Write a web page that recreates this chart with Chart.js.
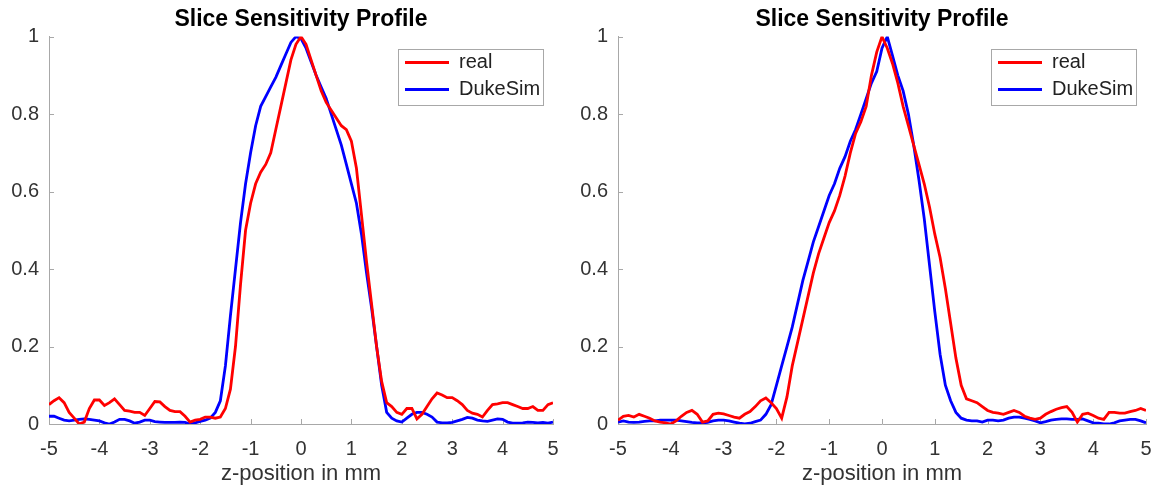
<!DOCTYPE html>
<html>
<head>
<meta charset="utf-8">
<title>Slice Sensitivity Profile</title>
<script src="https://cdn.jsdelivr.net/npm/chart.js@4.4.1/dist/chart.umd.min.js"></script>
<style>
    html, body { margin: 0; padding: 0; background: #ffffff; overflow: hidden; }
    body { width: 1167px; height: 494px; position: relative; }
    .panel { position: absolute; top: 0; height: 494px; }
    #panel-left  { left: 0;     width: 602px; }
    #panel-right { left: 570px; width: 600px; }
</style>
</head>
<body>
<div class="panel" id="panel-left"><canvas id="ssp-left"></canvas></div>
<div class="panel" id="panel-right"><canvas id="ssp-right"></canvas></div>
<script>
// z-position (mm), shared by both panels
var zPos = [
    -5.0, -4.9, -4.8, -4.7, -4.6, -4.5, -4.4, -4.3, -4.2, -4.1,
    -4.0, -3.9, -3.8, -3.7, -3.6, -3.5, -3.4, -3.3, -3.2, -3.1,
    -3.0, -2.9, -2.8, -2.7, -2.6, -2.5, -2.4, -2.3, -2.2, -2.1,
    -2.0, -1.9, -1.8, -1.7, -1.6, -1.5, -1.4, -1.3, -1.2, -1.1,
    -1.0, -0.9, -0.8, -0.7, -0.6, -0.5, -0.4, -0.3, -0.2, -0.1,
     0.0,  0.1,  0.2,  0.3,  0.4,  0.5,  0.6,  0.7,  0.8,  0.9,
     1.0,  1.1,  1.2,  1.3,  1.4,  1.5,  1.6,  1.7,  1.8,  1.9,
     2.0,  2.1,  2.2,  2.3,  2.4,  2.5,  2.6,  2.7,  2.8,  2.9,
     3.0,  3.1,  3.2,  3.3,  3.4,  3.5,  3.6,  3.7,  3.8,  3.9,
     4.0,  4.1,  4.2,  4.3,  4.4,  4.5,  4.6,  4.7,  4.8,  4.9,
     5.0
];

// left panel
var leftReal = [
    0.050, 0.060, 0.068, 0.055, 0.030, 0.015, 0.000, 0.005, 0.040, 0.062,
    0.062, 0.048, 0.055, 0.065, 0.050, 0.035, 0.033, 0.030, 0.030, 0.022,
    0.040, 0.058, 0.057, 0.045, 0.035, 0.032, 0.032, 0.020, 0.005, 0.010,
    0.012, 0.018, 0.018, 0.015, 0.018, 0.040, 0.090, 0.200, 0.360, 0.500,
    0.570, 0.620, 0.650, 0.670, 0.700, 0.760, 0.820, 0.880, 0.940, 0.980,
    1.000, 0.980, 0.940, 0.900, 0.860, 0.830, 0.810, 0.790, 0.770, 0.760,
    0.730, 0.660, 0.540, 0.420, 0.310, 0.200, 0.110, 0.055, 0.045, 0.030,
    0.025, 0.040, 0.040, 0.013, 0.025, 0.045, 0.065, 0.080, 0.075, 0.068,
    0.068, 0.060, 0.050, 0.035, 0.028, 0.025, 0.018, 0.035, 0.050, 0.052,
    0.055, 0.055, 0.050, 0.045, 0.040, 0.040, 0.045, 0.035, 0.035, 0.050,
    0.055
];
var leftDukeSim = [
    0.020, 0.020, 0.015, 0.010, 0.008, 0.010, 0.012, 0.013, 0.012, 0.010,
    0.008, 0.003, 0.000, 0.005, 0.012, 0.012, 0.008, 0.002, 0.005, 0.010,
    0.010, 0.006, 0.005, 0.004, 0.004, 0.004, 0.005, 0.004, 0.000, 0.003,
    0.007, 0.010, 0.015, 0.030, 0.060, 0.150, 0.280, 0.400, 0.520, 0.620,
    0.700, 0.770, 0.820, 0.845, 0.870, 0.895, 0.925, 0.955, 0.985, 1.000,
    0.995, 0.970, 0.935, 0.900, 0.870, 0.840, 0.800, 0.760, 0.720, 0.670,
    0.620, 0.570, 0.490, 0.390, 0.300, 0.200, 0.100, 0.030, 0.015, 0.008,
    0.005, 0.015, 0.025, 0.030, 0.030, 0.025, 0.018, 0.005, 0.003, 0.003,
    0.004, 0.008, 0.012, 0.017, 0.015, 0.010, 0.008, 0.007, 0.010, 0.013,
    0.012, 0.005, 0.002, 0.002, 0.003, 0.005, 0.004, 0.003, 0.004, 0.002,
    0.005
];

// right panel
var rightReal = [
    0.010, 0.020, 0.022, 0.018, 0.025, 0.020, 0.015, 0.008, 0.005, 0.003,
    0.000, 0.008, 0.020, 0.030, 0.035, 0.025, 0.005, 0.008, 0.025, 0.028,
    0.026, 0.022, 0.018, 0.015, 0.025, 0.032, 0.045, 0.060, 0.067, 0.055,
    0.040, 0.015, 0.070, 0.150, 0.210, 0.270, 0.330, 0.390, 0.440, 0.480,
    0.520, 0.550, 0.590, 0.640, 0.700, 0.750, 0.780, 0.820, 0.900, 0.960,
    1.000, 0.970, 0.930, 0.880, 0.820, 0.770, 0.720, 0.670, 0.620, 0.560,
    0.490, 0.430, 0.350, 0.260, 0.170, 0.100, 0.065, 0.060, 0.055, 0.045,
    0.035, 0.030, 0.028, 0.025, 0.030, 0.035, 0.030, 0.020, 0.015, 0.012,
    0.015, 0.025, 0.032, 0.038, 0.042, 0.045, 0.030, 0.005, 0.025, 0.028,
    0.022, 0.015, 0.012, 0.030, 0.030, 0.028, 0.028, 0.032, 0.035, 0.040,
    0.035
];
var rightDukeSim = [
    0.005, 0.008, 0.005, 0.004, 0.005, 0.007, 0.008, 0.008, 0.010, 0.010,
    0.010, 0.010, 0.008, 0.006, 0.004, 0.003, 0.003, 0.004, 0.008, 0.010,
    0.010, 0.008, 0.005, 0.002, 0.000, 0.002, 0.006, 0.010, 0.025, 0.050,
    0.100, 0.150, 0.200, 0.250, 0.310, 0.370, 0.420, 0.470, 0.510, 0.550,
    0.590, 0.620, 0.660, 0.690, 0.730, 0.760, 0.800, 0.840, 0.880, 0.910,
    0.970, 1.000, 0.950, 0.900, 0.860, 0.800, 0.720, 0.630, 0.530, 0.410,
    0.290, 0.180, 0.100, 0.060, 0.030, 0.015, 0.010, 0.008, 0.008, 0.005,
    0.010, 0.010, 0.008, 0.010, 0.015, 0.018, 0.018, 0.015, 0.012, 0.008,
    0.003, 0.006, 0.010, 0.012, 0.013, 0.013, 0.012, 0.012, 0.013, 0.008,
    0.003, 0.002, 0.000, 0.000, 0.003, 0.008, 0.010, 0.012, 0.012, 0.008,
    0.003
];

var seriesNames = ['real', 'DukeSim'];
var xTicks = [-5, -4, -3, -2, -1, 0, 1, 2, 3, 4, 5];
var yTicks = [0, 0.2, 0.4, 0.6, 0.8, 1];
var chartTitle = 'Slice Sensitivity Profile';
var xAxisTitle = 'z-position in mm';

Chart.defaults.font.family = '"Liberation Sans", Arial, Helvetica, sans-serif';
Chart.defaults.color = '#333333';

var AXIS_GREY = '#a8a8a8';

function toPoints(values) {
    return values.map(function (v, i) { return { x: zPos[i], y: v }; });
}

// MATLAB-like axes: title centred on the plot, inward ticks, boxed legend inside the axes
var matlabAxesPlugin = {
    id: 'matlabAxes',
    beforeDraw: function (chart) {
        var area = chart.chartArea;
        if (chart.titleBlock) {
            chart.titleBlock.left = area.left;
            chart.titleBlock.right = area.right;
            chart.titleBlock.width = area.right - area.left;
        }
        var lg = chart.legend;
        if (!lg) return;
        var boxLeft = area.right - 155;
        var boxTop = area.top + 12;
        lg.left = boxLeft;
        lg.right = area.right - 10;
        lg.width = lg.right - lg.left;
        lg.top = boxTop - 3;
        lg.bottom = boxTop + 80;
        lg.height = lg.bottom - lg.top;
    },
    beforeDatasetsDraw: function (chart) {
        var ctx = chart.ctx;
        var area = chart.chartArea;
        var xs = chart.scales.x, ys = chart.scales.y;
        ctx.save();
        ctx.strokeStyle = AXIS_GREY;
        ctx.lineWidth = 1;
        ctx.beginPath();
        xTicks.forEach(function (t) {
            var px = Math.round(xs.getPixelForValue(t)) + 0.5;
            ctx.moveTo(px, area.bottom);
            ctx.lineTo(px, area.bottom - 5);
        });
        yTicks.forEach(function (t) {
            var py = Math.round(ys.getPixelForValue(t)) + 0.5;
            ctx.moveTo(area.left, py);
            ctx.lineTo(area.left + 5, py);
        });
        ctx.stroke();
        ctx.restore();
    },
    afterDraw: function (chart) {
        var ctx = chart.ctx;
        var area = chart.chartArea;
        ctx.save();
        ctx.strokeStyle = AXIS_GREY;
        ctx.lineWidth = 1;
        ctx.strokeRect(Math.round(area.right - 155) + 0.5, Math.round(area.top + 12) + 0.5, 145, 56);
        ctx.restore();
    }
};

function buildChart(canvasId, realVals, dukeVals, yAxisWidth, rightPad) {
    var ctx = document.getElementById(canvasId);
    return new Chart(ctx, {
        type: 'line',
        data: {
            datasets: [{
                label: seriesNames[0],
                data: toPoints(realVals),
                borderColor: '#ff0000',
                backgroundColor: '#ff0000',
                borderWidth: 2.8,
                pointRadius: 0,
                tension: 0
            }, {
                label: seriesNames[1],
                data: toPoints(dukeVals),
                borderColor: '#0000ff',
                backgroundColor: '#0000ff',
                borderWidth: 2.8,
                pointRadius: 0,
                tension: 0
            }]
        },
        options: {
            responsive: true,
            maintainAspectRatio: false,
            animation: false,
            events: [],
            layout: { padding: { left: 0, right: rightPad, top: 0, bottom: 0 } },
            plugins: {
                title: {
                    display: true,
                    text: chartTitle,
                    color: '#000000',
                    font: { size: 23, weight: 'bold' },
                    padding: { top: 6, bottom: 3 }
                },
                legend: {
                    display: true,
                    position: 'chartArea',
                    align: 'start',
                    labels: {
                        color: '#222222',
                        font: { size: 20 },
                        boxWidth: 44,
                        boxHeight: 3,
                        padding: 7,
                        generateLabels: function (chart) {
                            var items = Chart.defaults.plugins.legend.labels.generateLabels(chart);
                            items.forEach(function (it) { it.fillStyle = it.strokeStyle; it.lineWidth = 0; });
                            return items;
                        }
                    }
                },
                tooltip: { enabled: false }
            },
            scales: {
                x: {
                    type: 'linear',
                    min: -5, max: 5,
                    grid: { display: false, drawTicks: false },
                    border: { display: true, color: AXIS_GREY, width: 1 },
                    afterBuildTicks: function (scale) {
                        scale.ticks = xTicks.map(function (v) { return { value: v }; });
                    },
                    ticks: { font: { size: 20 }, color: '#333333', padding: 13, maxRotation: 0 },
                    title: {
                        display: true,
                        text: xAxisTitle,
                        color: '#333333',
                        font: { size: 22 },
                        padding: { top: 0, bottom: 7 }
                    },
                    afterFit: function (scale) { scale.height = 70; }
                },
                y: {
                    min: 0, max: 1,
                    grid: { display: false, drawTicks: false },
                    border: { display: true, color: AXIS_GREY, width: 1 },
                    afterBuildTicks: function (scale) {
                        scale.ticks = yTicks.map(function (v) { return { value: v }; });
                    },
                    ticks: {
                        font: { size: 20 }, color: '#333333', padding: 10,
                        callback: function (v) { return String(Math.round(v * 10) / 10); }
                    },
                    afterFit: function (scale) { scale.width = yAxisWidth; }
                }
            }
        },
        plugins: [matlabAxesPlugin]
    });
}

buildChart('ssp-left', leftReal, leftDukeSim, 49, 49);
buildChart('ssp-right', rightReal, rightDukeSim, 48, 24);
</script>
</body>
</html>
